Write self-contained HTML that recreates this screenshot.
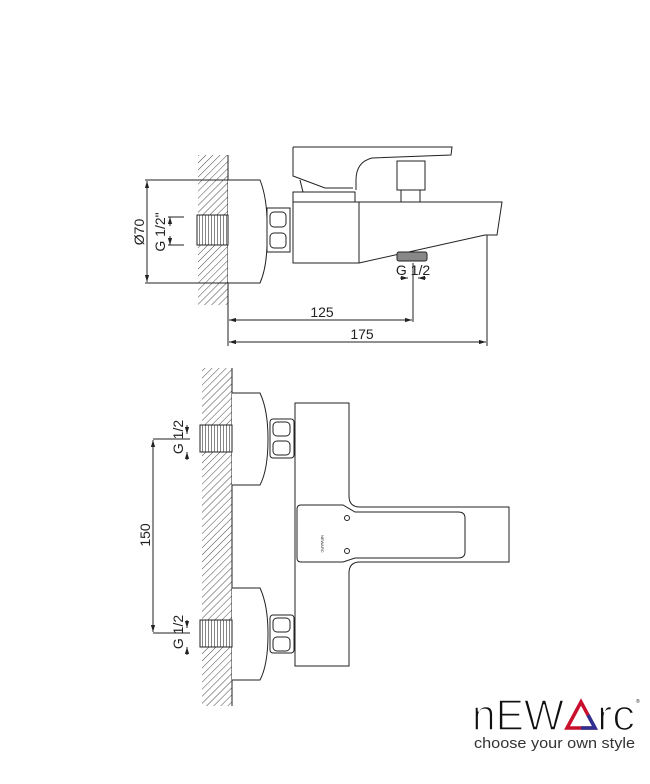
<!DOCTYPE html>
<html><head><meta charset="utf-8"><style>
html,body{margin:0;padding:0;background:#fff;}
svg{display:block;}
text{font-family:"Liberation Sans",sans-serif;fill:#222;}
</style></head><body>
<svg width="650" height="784" viewBox="0 0 650 784" xmlns="http://www.w3.org/2000/svg">
<defs>
<pattern id="h" width="5" height="5" patternUnits="userSpaceOnUse" patternTransform="rotate(45)">
<line x1="0" y1="0" x2="0" y2="5" stroke="#333" stroke-width="0.9"/>
</pattern>
<pattern id="t" width="3" height="4" patternUnits="userSpaceOnUse">
<rect width="3" height="4" fill="#fff"/><line x1="1.5" y1="0" x2="1.5" y2="4" stroke="#666" stroke-width="0.8"/>
</pattern>
<marker id="a" viewBox="0 0 10 10" refX="10" refY="5" markerWidth="7" markerHeight="7" orient="auto-start-reverse">
<path d="M0,2 L10,5 L0,8 z" fill="#222"/></marker>
</defs>
<g fill="none" stroke="#222" stroke-width="1">
<rect x="198" y="155" width="30" height="150" fill="url(#h)" stroke="none"/>
<line x1="228" y1="155" x2="228" y2="346"/>
<path d="M228,180 H260 Q268,200 267,232 Q268,265 260,283 H228" fill="#fff"/>
<rect x="197" y="215" width="31" height="30" fill="url(#t)"/>
<path d="M267,208 H290 V252 H267 Z" fill="#fff"/>
<rect x="270" y="212" width="16" height="15" rx="4"/>
<rect x="270" y="233" width="16" height="15" rx="4"/>
<path d="M293,202 H502 L497,235 L485,235 L359,263 H293 Z" fill="#fff"/>
<line x1="359" y1="202" x2="359" y2="263"/>
<rect x="293" y="192" width="62" height="10"/>
<path d="M293,147 H452 L451,155 L372,158 Q356,162 356,180 V190 M293,147 V176 L325,188 H353"/>
<line x1="303" y1="192" x2="300" y2="180"/>
<rect x="397" y="161" width="28" height="29"/>
<rect x="401" y="190" width="19" height="12"/>
<rect x="397" y="252" width="30" height="9" rx="2" fill="#888"/>
<line x1="145" y1="180" x2="228" y2="180"/>
<line x1="145" y1="283" x2="228" y2="283"/>
<line x1="147" y1="181" x2="147" y2="282" marker-start="url(#a)" marker-end="url(#a)"/>
<line x1="168" y1="217" x2="184" y2="217"/>
<line x1="168" y1="245" x2="184" y2="245"/>
<line x1="170" y1="226" x2="170" y2="217" marker-end="url(#a)"/>
<line x1="170" y1="236" x2="170" y2="245" marker-end="url(#a)"/>
<line x1="413" y1="263" x2="413" y2="322"/>
<line x1="400" y1="278" x2="408" y2="278" marker-end="url(#a)"/>
<line x1="426" y1="278" x2="418" y2="278" marker-end="url(#a)"/>
<line x1="229" y1="320" x2="412" y2="320" marker-start="url(#a)" marker-end="url(#a)"/>
<line x1="487" y1="235" x2="487" y2="346"/>
<line x1="229" y1="342" x2="486" y2="342" marker-start="url(#a)" marker-end="url(#a)"/>
<rect x="202" y="368" width="30" height="338" fill="url(#h)" stroke="none"/>
<line x1="232" y1="368" x2="232" y2="706"/>
<path d="M232,393 H260 Q268,410 268,439 Q268,470 260,485 H232" fill="#fff"/>
<path d="M232,588 H260 Q268,605 268,634 Q268,665 260,680 H232" fill="#fff"/>
<rect x="200" y="425" width="32" height="27" fill="url(#t)"/>
<rect x="200" y="620" width="32" height="27" fill="url(#t)"/>
<rect x="270" y="419" width="24" height="39" rx="3" fill="#fff"/>
<rect x="273" y="422" width="17" height="14" rx="4"/><rect x="273" y="441" width="17" height="14" rx="4"/>
<rect x="270" y="615" width="24" height="38" rx="3" fill="#fff"/>
<rect x="273" y="618" width="17" height="14" rx="4"/><rect x="273" y="637" width="17" height="14" rx="4"/>
<path d="M295,403 H349 V496 Q349,507 360,507 H509 V562 H360 Q349,562 349,573 V666 H295 Z" fill="#fff"/>
<path d="M301,505 H343 L355,512 H458 Q465,512 465,518 V552 Q465,558 458,558 H355 L343,562 H301 Q297,562 297,558 V509 Q297,505 301,505 Z"/>
<circle cx="347" cy="518" r="2.5"/><circle cx="347" cy="551" r="2.5"/>
<line x1="153" y1="439" x2="190" y2="439"/>
<line x1="153" y1="633" x2="190" y2="633"/>
<line x1="153" y1="440" x2="153" y2="632" marker-start="url(#a)" marker-end="url(#a)"/>
<line x1="187" y1="425" x2="187" y2="434" marker-end="url(#a)"/>
<line x1="187" y1="460" x2="187" y2="452" marker-end="url(#a)"/>
<line x1="187" y1="620" x2="187" y2="628" marker-end="url(#a)"/>
<line x1="187" y1="655" x2="187" y2="647" marker-end="url(#a)"/>
</g>
<g font-size="14">
<text transform="translate(144,232) rotate(-90)" text-anchor="middle">Ø70</text>
<text transform="translate(165,232) rotate(-90)" text-anchor="middle">G 1/2"</text>
<text x="413" y="275" text-anchor="middle">G 1/2</text>
<text x="322" y="317" text-anchor="middle">125</text>
<text x="362" y="339" text-anchor="middle">175</text>
<text transform="translate(150,535) rotate(-90)" text-anchor="middle">150</text>
<text transform="translate(183,437) rotate(-90)" text-anchor="middle">G 1/2</text>
<text transform="translate(183,632) rotate(-90)" text-anchor="middle">G 1/2</text>
</g>
<text x="323" y="537" font-size="4" transform="rotate(90 323 535)">NEWARC</text>
<g>
<text x="472" y="730" font-size="44" style="fill:#fff;stroke:#111;stroke-width:0" textLength="92" lengthAdjust="spacingAndGlyphs"></text>
<text x="472" y="730" font-size="44" style="fill:#111;stroke:#fff;stroke-width:1.6;paint-order:normal" textLength="92" lengthAdjust="spacingAndGlyphs">nEW</text>
<path d="M567,728 L581,702 L595,728 Z" fill="none" stroke="#c8102e" stroke-width="3.5" stroke-linejoin="miter"/>
<path d="M581,728 H595 L588,715" fill="none" stroke="#2e3192" stroke-width="3.5"/>
<text x="597" y="730" font-size="44" style="fill:#111;stroke:#fff;stroke-width:1.6" textLength="38" lengthAdjust="spacingAndGlyphs">rc</text>
<text x="636" y="703" font-size="5">®</text>
<text x="474" y="748" font-size="15" style="fill:#333" textLength="161" lengthAdjust="spacingAndGlyphs">choose your own style</text>
</g>
</svg>
</body></html>
